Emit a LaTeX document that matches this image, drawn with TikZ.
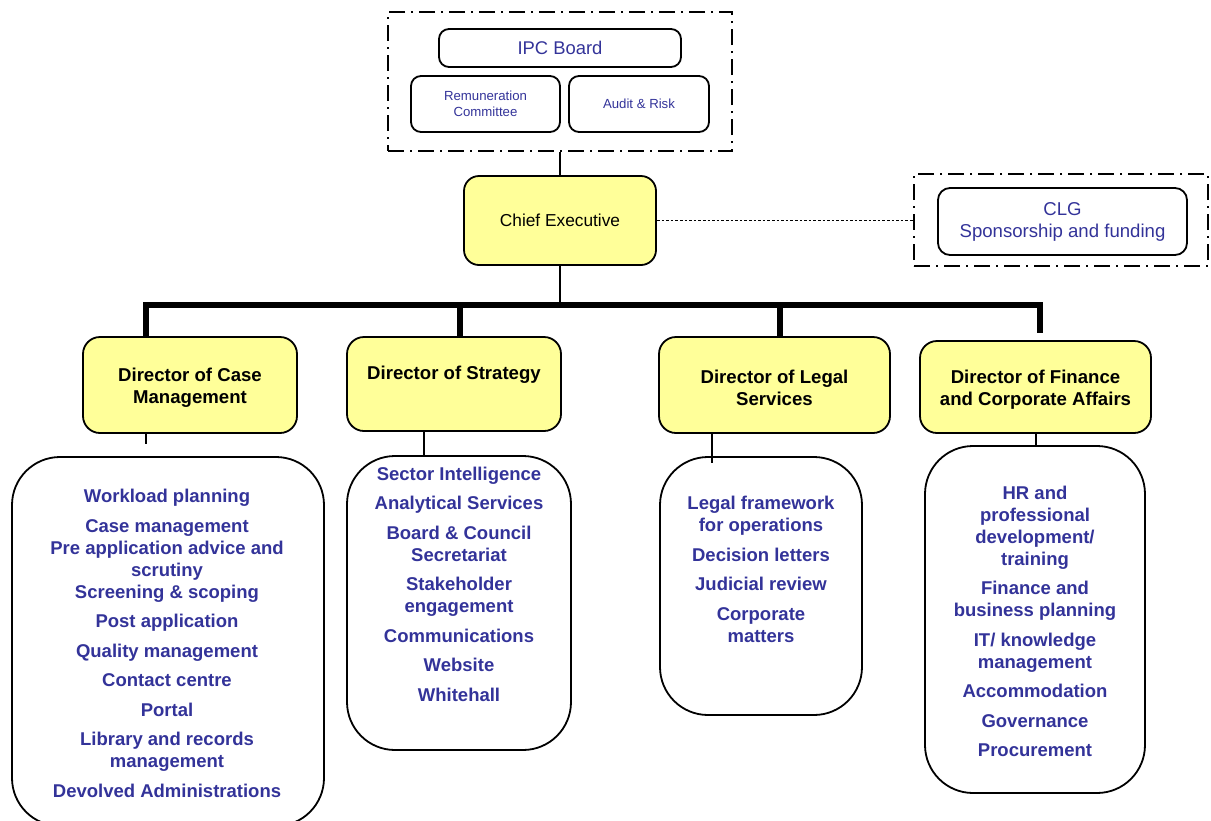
\documentclass[tikz,border=0pt]{standalone}
\usepackage{fontspec}
\setmainfont{Liberation Sans}
\definecolor{txtblue}{RGB}{51,51,153}
\definecolor{yel}{RGB}{255,255,153}
\tikzset{
  box/.style={draw=black, line width=1.8pt, rectangle, inner sep=0pt, align=center},
  smallbox/.style={box, rounded corners=10pt, text=txtblue},
  ybox/.style={box, rounded corners=17pt, fill=yel},
  listbox/.style={box, rounded corners=48pt},
  listtxt/.style={text=txtblue, align=center, inner sep=0pt, font=\fontsize{18.5}{22}\selectfont\bfseries},
  dashdot/.style={draw=black, line width=1.5pt, rectangle, dash pattern=on 16pt off 6pt on 2pt off 6pt},
  thin/.style={line width=1.5pt},
  thick bus/.style={line width=6pt},
}
\begin{document}
\begin{tikzpicture}[x=1pt,y=-1pt]
\useasboundingbox (0,0) rectangle (1211,820);
\clip (0,0) rectangle (1211,820);

% governance group
\node[dashdot, minimum width=344pt, minimum height=139pt] (gov) at (560,81.5) {};
\node[smallbox, minimum width=242pt, minimum height=38pt, font=\fontsize{18.4}{22}\selectfont] (ipc) at (560,48) {IPC Board};
\node[smallbox, minimum width=149pt, minimum height=56pt, font=\fontsize{13.2}{16}\selectfont] (rem) at (485.5,104) {Remuneration\\Committee};
\node[smallbox, minimum width=140pt, minimum height=56pt, font=\fontsize{13.2}{16}\selectfont] (aud) at (639,104) {Audit \& Risk};

% chief executive
\node[ybox, rounded corners=15pt, minimum width=192pt, minimum height=89pt, font=\fontsize{17.3}{21}\selectfont] (ce) at (560,220.5) {Chief Executive};

% CLG
\node[dashdot, minimum width=294pt, minimum height=92pt] (clgo) at (1061,220) {};
\node[smallbox, rounded corners=12pt, minimum width=249pt, minimum height=67pt, font=\fontsize{18.6}{22}\selectfont] (clg) at (1062.5,221.5) {CLG\\Sponsorship and funding};

\draw[line width=1.7pt, dash pattern=on 2.6pt off 2pt] (ce.east) -- (ce.east -| clgo.west);
\draw[thin] (gov.south -| ce.north) -- (ce.north);

% directors
\tikzset{dirfont/.style={font=\fontsize{18.6}{22}\selectfont\bfseries}}
\node[ybox, dirfont, minimum width=214pt, minimum height=96pt] (dcm) at (190,385) {};
\node[dirfont, align=center, inner sep=0pt] at (190,387.5) {Director of Case\\Management};
\node[ybox, dirfont, minimum width=214pt, minimum height=94pt] (ds) at (454,384) {};
\node[dirfont, inner sep=0pt] at (454,375) {Director of Strategy};
\node[ybox, dirfont, minimum width=231pt, minimum height=96pt] (dl) at (774.5,385) {};
\node[dirfont, align=center, inner sep=0pt] at (774.5,387.5) {Director of Legal\\Services};
\node[ybox, dirfont, minimum width=231pt, minimum height=92pt] (df) at (1035.5,387) {};
\node[dirfont, align=center, inner sep=0pt] at (1035.5,389.5) {Director of Finance\\and Corporate Affairs};

% bus
\coordinate (busL) at (146,305);
\coordinate (busR) at (1040,305);
\coordinate (bus2) at (460,305);
\coordinate (bus3) at (780,305);
\coordinate (dfstub) at (1040,333);
\draw[thin] (ce.south) -- (ce.south |- busL);
\draw[thick bus, line join=miter] (busL |- dcm.north) -- (busL) -- (busR) -- (dfstub);
\draw[thick bus] (bus2) -- (bus2 |- ds.north);
\draw[thick bus] (bus3) -- (bus3 |- dl.north);

% lists
\node[listbox, minimum width=312pt, minimum height=369pt] (lcm) at (168,641.5) {};
\node[listbox, minimum width=224pt, minimum height=294pt] (ls) at (459,603) {};
\node[listbox, minimum width=202pt, minimum height=258pt] (ll) at (761,586) {};
\node[listbox, minimum width=220pt, minimum height=347pt] (lf) at (1035,619.5) {};

\node[listtxt] (tcm) at (167,643.5) {Workload planning\\[7.5pt]Case management\\Pre application advice and\\scrutiny\\Screening \& scoping\\[7.5pt]Post application\\[7.5pt]Quality management\\[7.5pt]Contact centre\\[7.5pt]Portal\\[7.5pt]Library and records\\management\\[7.5pt]Devolved Administrations};
\node[listtxt] (ts) at (459,584) {Sector Intelligence\\[7.5pt]Analytical Services\\[7.5pt]Board \& Council\\Secretariat\\[7.5pt]Stakeholder\\engagement\\[7.5pt]Communications\\[7.5pt]Website\\[7.5pt]Whitehall};
\node[listtxt] (tl) at (761,569.5) {Legal framework\\for operations\\[7.5pt]Decision letters\\[7.5pt]Judicial review\\[7.5pt]Corporate\\matters};
\node[listtxt] (tf) at (1035,621.5) {HR and\\professional\\development/\\training\\[7.5pt]Finance and\\business planning\\[7.5pt]IT/ knowledge\\management\\[7.5pt]Accommodation\\[7.5pt]Governance\\[7.5pt]Procurement};

% director to list connectors
\coordinate (cmstub) at (146,444);
\coordinate (lstub) at (712,463);
\draw[thin] (dcm.south -| cmstub) -- (cmstub);
\draw[thin] (ds.south -| 424,0) -- (ls.north -| 424,0);
\draw[thin] (dl.south -| lstub) -- (lstub);
\draw[thin] (df.south -| 1036,0) -- (lf.north -| 1036,0);
\end{tikzpicture}
\end{document}
